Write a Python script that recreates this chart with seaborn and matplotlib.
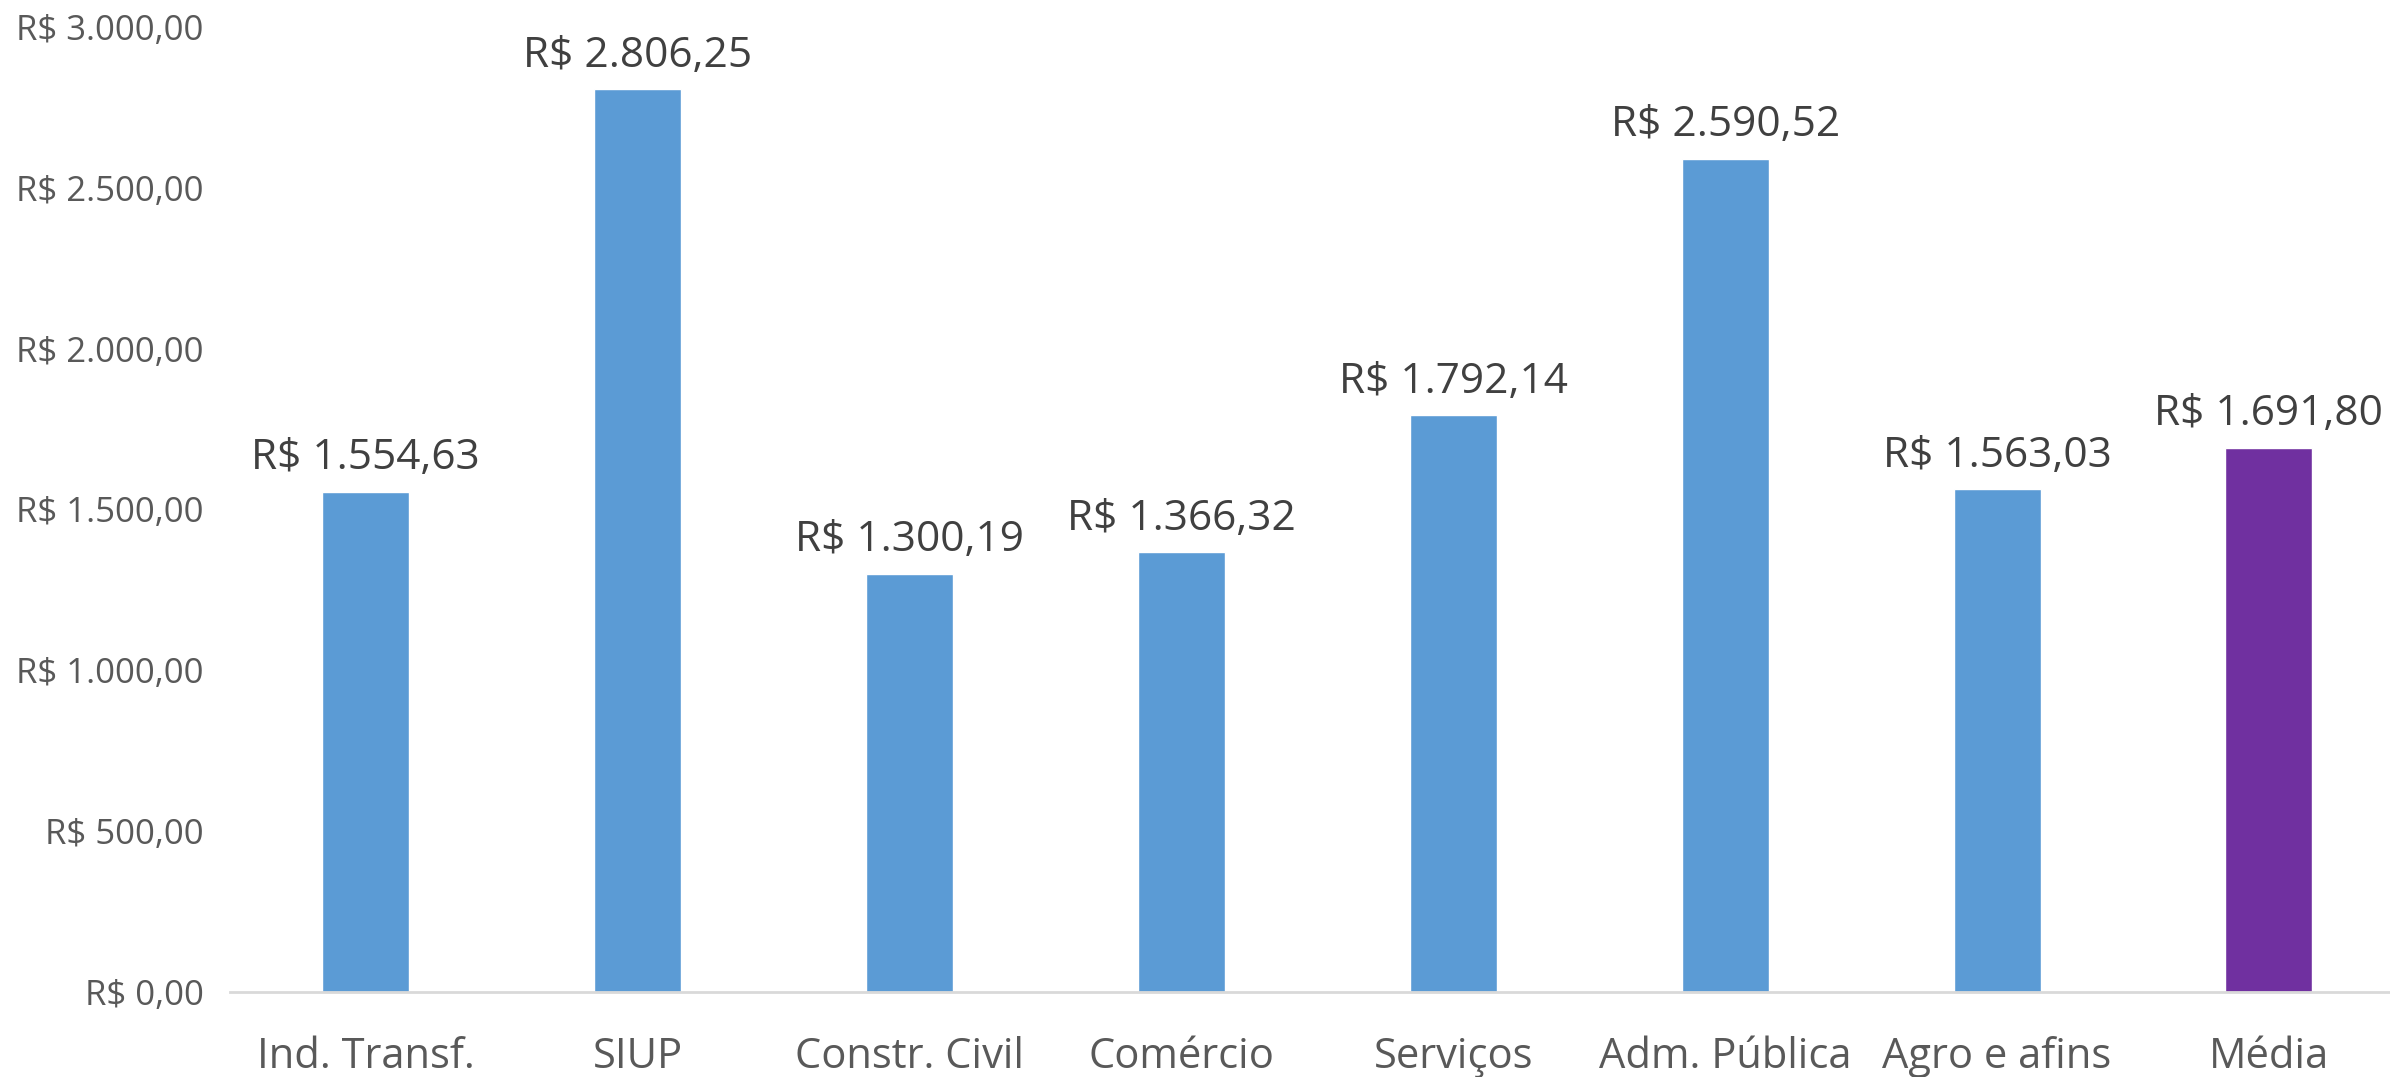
import matplotlib
matplotlib.use("Agg")
import matplotlib.pyplot as plt
import seaborn as sns
from matplotlib.ticker import FuncFormatter

categorias = ['Ind. Transf.', 'SIUP', 'Constr. Civil', 'Comércio', 'Serviços',
              'Adm. Pública', 'Agro e afins', 'Média']
valores = [1554.63, 2806.25, 1300.19, 1366.32, 1792.14, 2590.52, 1563.03, 1691.80]
cores = ['#5B9BD5'] * 7 + ['#7030A0']
y_ticks = [0, 500, 1000, 1500, 2000, 2500, 3000]


def brl(v):
    s = f'{v:,.2f}'.replace(',', 'X').replace('.', ',').replace('X', '.')
    return f'R$ {s}'


sns.set_theme(style='white')
plt.rcParams['font.family'] = ['Open Sans', 'DejaVu Sans']

fig = plt.figure(figsize=(23.9, 10.77), dpi=100)
ax = fig.add_axes([0.0962, 0.079, 0.910, 0.896])

sns.barplot(x=categorias, y=valores, hue=categorias, palette=cores,
            width=0.32, legend=False, saturation=1, ax=ax)

for i, v in enumerate(valores):
    ax.annotate(brl(v), (i, v), xytext=(0, 9), textcoords='offset points',
                ha='center', va='bottom', fontsize=30.5, color='#404040')

ax.set_ylim(0, 3000)
ax.set_xlim(-0.5, 7.5)
ax.set_yticks(y_ticks)
ax.yaxis.set_major_formatter(FuncFormatter(lambda v, p: brl(v)))
ax.tick_params(axis='y', labelsize=25, labelcolor='#595959', length=0, pad=19)
ax.tick_params(axis='x', labelsize=30, labelcolor='#595959', length=0, pad=32)

for s in ['top', 'right', 'left']:
    ax.spines[s].set_visible(False)
ax.spines['bottom'].set_color('#D9D9D9')
ax.spines['bottom'].set_linewidth(2)
ax.grid(False)

fig.savefig('out.png', dpi=100)
